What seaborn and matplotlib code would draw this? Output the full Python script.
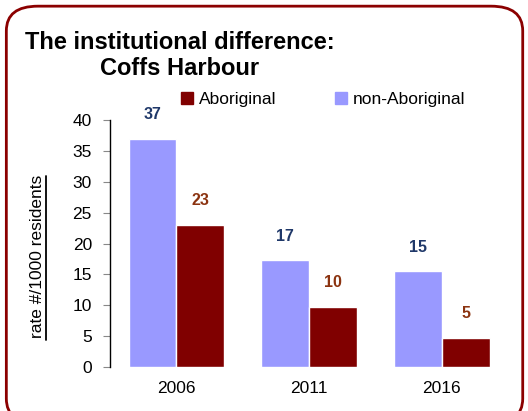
import pandas as pd
import matplotlib.pyplot as plt
import seaborn as sns
from matplotlib.patches import FancyBboxPatch, Patch
from matplotlib.lines import Line2D

years = ['2006', '2011', '2016']
non_aboriginal = [36.9, 17.3, 15.5]
aboriginal = [23.0, 9.7, 4.7]
non_ab_labels = ['37', '17', '15']
ab_labels = ['23', '10', '5']

df = pd.DataFrame({
    'Year': years * 2,
    'Rate': non_aboriginal + aboriginal,
    'Group': ['non-Aboriginal'] * 3 + ['Aboriginal'] * 3,
})

sns.set_style('white')
plt.rcParams['font.family'] = ['Liberation Sans', 'DejaVu Sans']
plt.rcParams['text.color'] = 'black'
plt.rcParams['xtick.color'] = 'black'
plt.rcParams['ytick.color'] = 'black'

fig = plt.figure(figsize=(5.28, 4.11), dpi=100)
ax = fig.add_axes([0.2083, 0.107, 0.7542, 0.601])

palette = {'non-Aboriginal': '#9999FF', 'Aboriginal': '#800000'}
sns.barplot(data=df, x='Year', y='Rate', hue='Group',
            hue_order=['non-Aboriginal', 'Aboriginal'], palette=palette,
            width=0.72, saturation=1, ax=ax, legend=False)

# value labels above bars
for bars, labels, col in zip(ax.containers, [non_ab_labels, ab_labels], ['#1F3869', '#8B3310']):
    ax.bar_label(bars, labels=labels, padding=12, color=col, fontsize=11.5, fontweight='bold')

ax.set_xlim(-0.5, 2.5)
ax.set_ylim(0, 40)
ax.set_yticks(range(0, 41, 5))
ax.set_xlabel('')
ax.set_ylabel('')
ax.tick_params(axis='y', labelsize=12.5, length=5, color='#888888', labelcolor='black', pad=8, left=True, direction='out')
ax.tick_params(axis='x', labelsize=12.5, length=0, labelcolor='black', pad=10)
for s in ['top', 'right', 'bottom']:
    ax.spines[s].set_visible(False)
ax.spines['left'].set_color('black')
ax.spines['left'].set_linewidth(1)

# y label, underlined
fig.text(0.071, 0.375, 'rate #/1000 residents', rotation=90, ha='center', va='center', fontsize=12.5, color='black')
fig.add_artist(Line2D([0.088, 0.088], [0.172, 0.572], color='black', lw=1.3, transform=fig.transFigure))

# title
fig.text(0.047, 0.897, 'The institutional difference:', fontsize=17, fontweight='bold', va='center', color='black')
fig.text(0.19, 0.833, 'Coffs Harbour', fontsize=17, fontweight='bold', va='center', color='black')

# legend
handles = [Patch(color='#800000', label='Aboriginal'), Patch(color='#9999FF', label='non-Aboriginal')]
fig.legend(handles=handles, loc='center', bbox_to_anchor=(0.612, 0.757), ncol=2, frameon=False,
           fontsize=12.5, handlelength=0.7, handleheight=0.7, handletextpad=0.3, columnspacing=3.4)

# rounded border
border = FancyBboxPatch((0.012, -0.03), 0.978, 1.015, boxstyle='round,pad=0,rounding_size=0.06',
                        transform=fig.transFigure, fill=False, edgecolor='#8B0000', lw=2)
fig.add_artist(border)

fig.savefig('out.png', dpi=100)
